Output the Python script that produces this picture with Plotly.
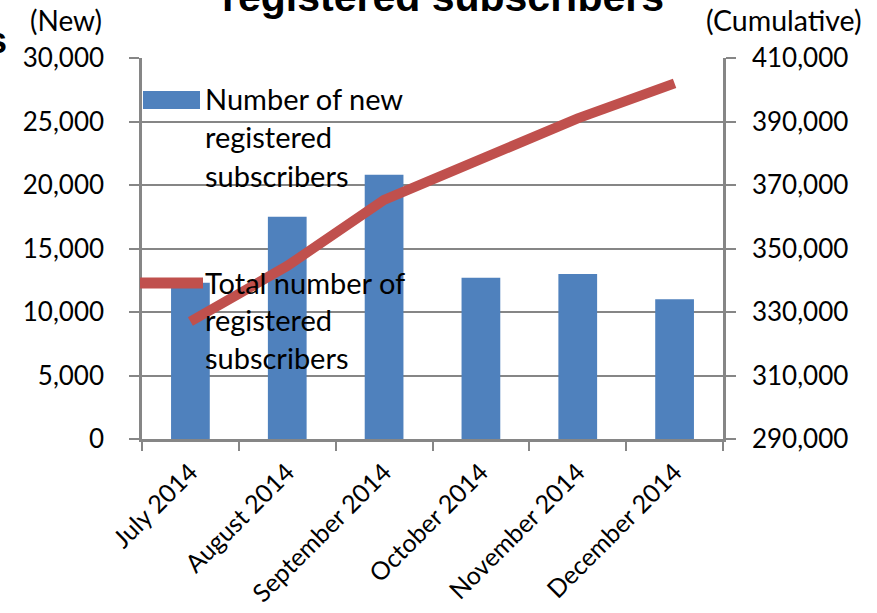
import plotly.graph_objects as go

months = ["July 2014", "August 2014", "September 2014", "October 2014", "November 2014", "December 2014"]
new_subscribers = [12300, 17500, 20800, 12700, 13000, 11000]
total_subscribers = [327000, 344500, 365300, 378000, 391000, 402000]

left_ticks = [0, 5000, 10000, 15000, 20000, 25000, 30000]
right_ticks = [290000, 310000, 330000, 350000, 370000, 390000, 410000]

bar_name = ["Number of new", "registered", "subscribers"]
line_name = ["Total number of", "registered", "subscribers"]

BLUE = "#4F81BD"
RED = "#C0504D"
GRAY = "#868686"
FONT = "Lato"

W, H = 877, 613
L, R, T, B = 142, 723, 58, 439


def px_x(px):
    return (px - L) / (R - L)


def px_y(py):
    return (B - py) / (B - T)


fig = go.Figure()
fig.add_trace(go.Bar(
    x=months, y=new_subscribers, name="Number of new registered subscribers",
    marker=dict(color=BLUE, line=dict(width=0)), yaxis="y", showlegend=False,
))
fig.add_trace(go.Scatter(
    x=months, y=total_subscribers, name="Total number of registered subscribers",
    mode="lines", line=dict(color=RED, width=10), yaxis="y2", showlegend=False,
))

annotations = []
shapes = []

# manual legend
shapes.append(dict(type="rect", xref="paper", yref="paper",
                   x0=px_x(143), x1=px_x(200), y0=px_y(109), y1=px_y(91),
                   fillcolor=BLUE, line=dict(width=0), layer="above"))
shapes.append(dict(type="line", xref="paper", yref="paper",
                   x0=px_x(140), x1=px_x(203), y0=px_y(283), y1=px_y(283),
                   line=dict(color=RED, width=11), layer="above"))
for i, t in enumerate(bar_name):
    annotations.append(dict(text=t, xref="paper", yref="paper", x=px_x(203), y=px_y(98 + 38.5 * i),
                            xanchor="left", yanchor="middle", showarrow=False,
                            font=dict(family=FONT, size=29, color="black")))
for i, t in enumerate(line_name):
    annotations.append(dict(text=t, xref="paper", yref="paper", x=px_x(203), y=px_y(282 + 37.5 * i),
                            xanchor="left", yanchor="middle", showarrow=False,
                            font=dict(family=FONT, size=29, color="black")))

# axis unit labels
annotations.append(dict(text="(New)", xref="paper", yref="paper", x=px_x(66), y=px_y(20),
                        xanchor="center", yanchor="middle", showarrow=False,
                        font=dict(family=FONT, size=28, color="black")))
annotations.append(dict(text="(Cumulative)", xref="paper", yref="paper", x=px_x(784), y=px_y(20),
                        xanchor="center", yanchor="middle", showarrow=False,
                        font=dict(family=FONT, size=28.5, color="black")))
# cut-off title
annotations.append(dict(text="<b>registered subscribers</b>", xref="paper", yref="paper",
                        x=px_x(443), y=px_y(22), xanchor="center", yanchor="bottom", showarrow=False,
                        font=dict(family="Liberation Sans", size=41, color="black")))
annotations.append(dict(text="<b>s</b>", xref="paper", yref="paper",
                        x=px_x(9), y=px_y(40), xanchor="right", yanchor="middle", showarrow=False,
                        font=dict(family="Liberation Sans", size=36, color="black")))

fig.update_layout(
    width=W, height=H, autosize=False,
    margin=dict(l=L, r=W - R, t=T, b=H - B, pad=0, autoexpand=False),
    paper_bgcolor="white", plot_bgcolor="white",
    bargap=0.6,
    font=dict(family=FONT, size=26, color="black"),
    xaxis=dict(type="category", tickson="boundaries", ticks="outside", ticklen=9, tickwidth=2,
               tickcolor=GRAY, showline=True, linecolor=GRAY, linewidth=2.5, showgrid=False,
               tickangle=-45, ticklabelstandoff=6, automargin=False,
               tickfont=dict(family=FONT, size=25)),
    yaxis=dict(range=[0, 30000], tickvals=left_ticks, tickformat=",", ticks="outside", ticklen=10,
               tickwidth=2, tickcolor=GRAY, showline=True, linecolor=GRAY, linewidth=2.5,
               showgrid=True, gridcolor=GRAY, gridwidth=2, zeroline=False, automargin=False,
               ticklabelstandoff=20, tickfont=dict(family=FONT, size=26)),
    yaxis2=dict(range=[290000, 410000], tickvals=right_ticks, tickformat=",", overlaying="y",
                side="right", ticks="outside", ticklen=10, tickwidth=2, tickcolor=GRAY,
                showline=True, linecolor=GRAY, linewidth=2.5, showgrid=False, zeroline=False,
                automargin=False, ticklabelstandoff=11, tickfont=dict(family=FONT, size=26)),
    annotations=annotations,
    shapes=shapes,
    showlegend=False,
)

fig.write_html("out.html", config={"displayModeBar": False},
               post_script="document.body.style.margin='0';")
